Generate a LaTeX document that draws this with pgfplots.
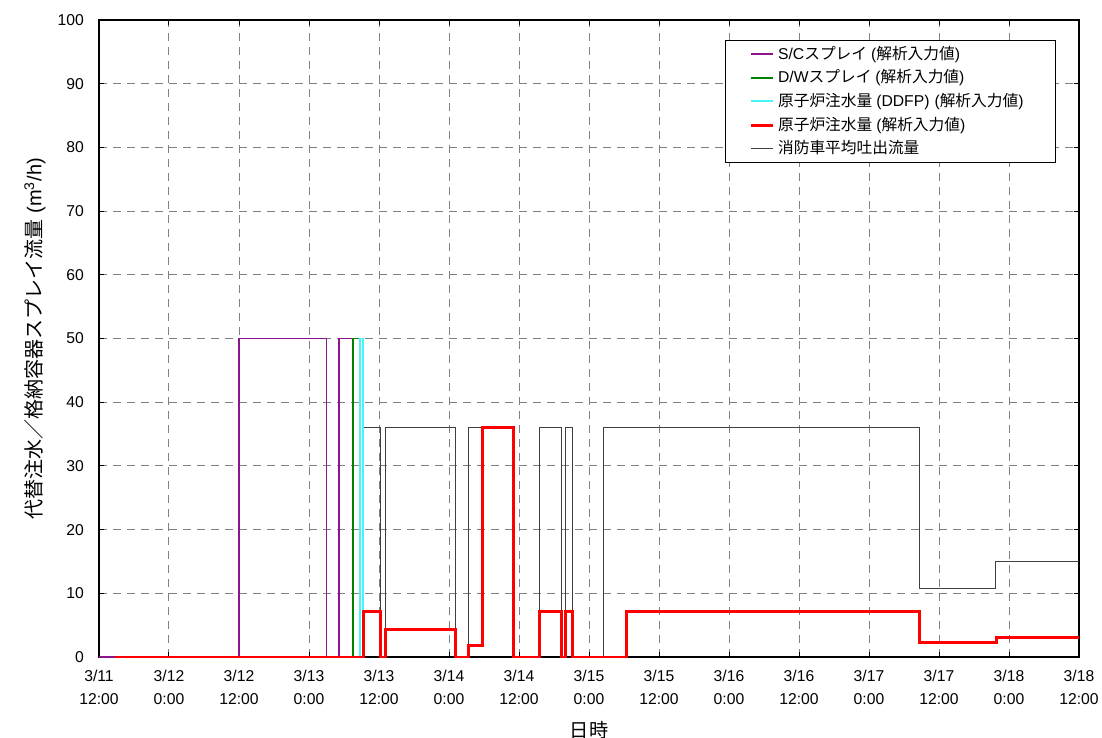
\documentclass[border=0pt]{standalone}
\usepackage{pgfplots}
\pgfplotsset{compat=1.18}
\usepackage{fontspec}
\setmainfont{Liberation Sans}
\newfontfamily\jp{Noto Sans CJK JP}
\definecolor{scpurple}{RGB}{140,20,140}
\definecolor{dwgreen}{RGB}{0,130,0}
\definecolor{ddcyan}{RGB}{70,245,245}
\definecolor{grd}{RGB}{128,128,128}
\newcommand{\lp}{\kern2pt(}
\newcommand{\rp}{)\kern2pt}
\begin{document}
\begin{tikzpicture}
\path[use as bounding box] (-49.5pt,-40.5pt) rectangle (501.5pt,328.5pt);
\begin{axis}[
  scale only axis,
  width=490pt, height=318.5pt,
  xmin=0, xmax=168, ymin=0, ymax=100,
  xtick={0,12,...,168},
  ytick={0,10,...,100},
  xticklabels={{3/11\\12:00},{3/12\\0:00},{3/12\\12:00},{3/13\\0:00},{3/13\\12:00},{3/14\\0:00},{3/14\\12:00},{3/15\\0:00},{3/15\\12:00},{3/16\\0:00},{3/16\\12:00},{3/17\\0:00},{3/17\\12:00},{3/18\\0:00},{3/18\\12:00}},
  xticklabel style={align=center, font=\fontsize{7.85}{11.5}\selectfont, yshift=-3pt},
  yticklabel style={font=\fontsize{7.85}{9}\selectfont, xshift=-4pt},
  /pgf/number format/assume math mode=true,
  grid=major,
  major grid style={grd, dash pattern=on 4pt off 3pt, line width=0.5pt},
  axis line style={black, line width=0.6pt},
  tick style={black, line width=0.5pt},
  major tick length=2.5pt,
  tick align=inside,
  xlabel={{\jp 日時}},
  ylabel={{\jp 代替注水／格納容器スプレイ流量} (m\textsuperscript{3}/h)},
  xlabel style={at={(axis description cs:0.5,-0.1146)}, anchor=center, font=\fontsize{9.6}{11}\selectfont},
  ylabel style={at={(axis description cs:-0.0653,0.5)}, anchor=center, rotate=0, font=\fontsize{10}{12}\selectfont},
  legend style={at={(rel axis cs:0.9765,0.9686)}, anchor=north east, draw=black, line width=0.5pt,
    font=\fontsize{7.85}{9}\selectfont, inner xsep=12pt, inner ysep=1pt,
    nodes={text height=6.5pt, text depth=1.5pt, inner ysep=1.9pt}},
  legend cell align=left,
  legend image code/.code={\draw[#1] (0pt,0pt) -- (11pt,0pt);},
]
\addplot[black!75, line width=0.55pt, forget plot] coordinates {
(0,0)(45.3,0)(45.3,36)(48.3,36)(48.3,0)(49.1,0)(49.1,36)(61.1,36)(61.1,0)(63.4,0)(63.4,36)(71.0,36)(71.0,0)(75.5,0)(75.5,36)(79.3,36)(79.3,0)(79.9,0)(79.9,36)(81.2,36)(81.2,0)(86.5,0)(86.5,36)(140.7,36)(140.7,10.8)(153.7,10.8)(153.7,15)(168,15)};
\addplot[scpurple, line width=0.85pt, forget plot] coordinates {
(0,0)(24,0)(24,50)(39,50)(39,0)(41.1,0)(41.1,50)(43.5,50)(43.5,0)(45,0)};
\addplot[dwgreen, line width=0.85pt, forget plot] coordinates {
(40,0)(43.6,0)(43.6,50)(44.7,50)(44.7,0)(45,0)};
\addplot[ddcyan, line width=0.85pt, forget plot] coordinates {
(44,0)(44.8,0)(44.8,50)(45.2,50)(45.2,0)(45.5,0)};
\addplot[red, line width=1.5pt, forget plot] coordinates {
(2.7,0)(45.3,0)(45.3,7.2)(48.3,7.2)(48.3,0)(49.1,0)(49.1,4.35)(61.1,4.35)(61.1,0)(63.3,0)(63.3,1.85)(65.8,1.85)(65.8,36)(71.0,36)(71.0,0)(75.5,0)(75.5,7.2)(79.3,7.2)(79.3,0)(80.0,0)(80.0,7.2)(81.2,7.2)(81.2,0)(90.5,0)(90.5,7.2)(140.7,7.2)(140.7,2.25)(153.8,2.25)(153.8,3.0)(168,3.0)};
\addlegendimage{scpurple, line width=1pt}
\addlegendentry{S/C{\jp スプレイ}\lp{\jp 解析入力値}\rp}
\addlegendimage{dwgreen, line width=1pt}
\addlegendentry{D/W{\jp スプレイ}\lp{\jp 解析入力値}\rp}
\addlegendimage{ddcyan, line width=1pt}
\addlegendentry{{\jp 原子炉注水量}\lp DDFP)\kern2.5pt({\jp 解析入力値}\rp}
\addlegendimage{red, line width=1.5pt}
\addlegendentry{{\jp 原子炉注水量}\lp{\jp 解析入力値}\rp}
\addlegendimage{black!75, line width=0.6pt}
\addlegendentry{{\jp 消防車平均吐出流量}}
\end{axis}
\end{tikzpicture}
\end{document}
